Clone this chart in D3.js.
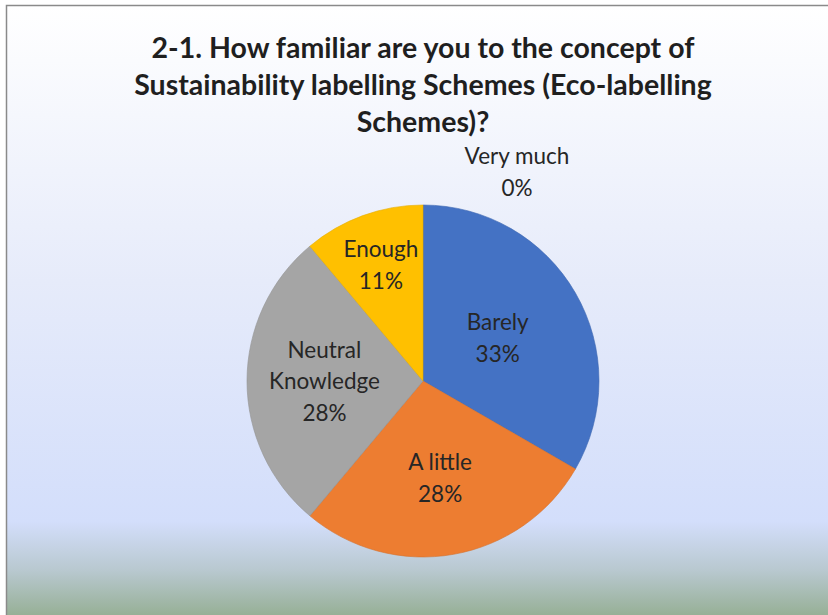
<!DOCTYPE html>
<html><head><meta charset="utf-8">
<script src="https://cdn.jsdelivr.net/npm/d3@7"></script>
<style>html,body{margin:0;padding:0;background:#fff;overflow:hidden}</style>
</head><body>
<svg id="c" width="828" height="615"></svg>
<script>
const titleLines = ["2-1. How familiar are you to the concept of", "Sustainability labelling Schemes (Eco-labelling", "Schemes)?"];
const categories = ["Very much", "Barely", "A little", "Neutral Knowledge", "Enough"];
const labelLines = [["Very much"], ["Barely"], ["A little"], ["Neutral", "Knowledge"], ["Enough"]];
const values = [0, 12, 10, 10, 4];
const colors = ["#5b9bd5", "#4472c4", "#ed7d31", "#a5a5a5", "#ffc000"];

const W = 828, H = 615;
const svg = d3.select("#c");
const defs = svg.append("defs");
const g = defs.append("linearGradient").attr("id","bg").attr("x1",0).attr("y1",0).attr("x2",0).attr("y2",1);
[[0,"#ffffff"],[0.45,"#e6ebfa"],[0.84,"#d3defb"],[0.92,"#b8c8cf"],[1,"#93ad90"]].forEach(([o,c])=>g.append("stop").attr("offset",o).attr("stop-color",c));
svg.append("rect").attr("x",6).attr("y",5).attr("width",W).attr("height",H).attr("fill","url(#bg)");
svg.append("path").attr("d",`M6.5,${H} L6.5,5.5 L${W},5.5`).attr("fill","none").attr("stroke","#8a8a8a").attr("stroke-width",1.5);

const font = "Lato, 'Open Sans', sans-serif";
svg.append("g").selectAll("text").data(titleLines).join("text")
  .attr("x", 423).attr("y", (d,i)=>58 + i*37)
  .attr("text-anchor","middle").attr("font-family",font).attr("font-weight","bold")
  .attr("font-size",28.5).attr("fill","#1f1f1f").text(d=>d);

const cx = 423, cy = 381, r = 176;
const pie = d3.pie().sort(null).value(d=>d.v);
const data = categories.map((c,i)=>({c, v: values[i], lines: labelLines[i], color: colors[i]}));
const arcs = pie(data);
const total = d3.sum(values);
const arc = d3.arc().innerRadius(0).outerRadius(r);
const pg = svg.append("g").attr("transform",`translate(${cx},${cy})`);
pg.selectAll("path").data(arcs).join("path")
  .attr("d",arc).attr("fill",d=>d.data.color)
  .attr("stroke",d=>d3.color(d.data.color).darker(0.3)).attr("stroke-width",0.6);

const fmt = d3.format(".0%");
const labelRadiusFactor = {"Barely":0.49, "A little":0.56, "Neutral Knowledge":0.56, "Enough":0.7};
const lg = pg.append("g").attr("font-family",font).attr("font-size",22.5).attr("fill","#262626").attr("text-anchor","middle");
arcs.forEach(a=>{
  const lines = a.data.lines.concat([fmt(a.data.v/total)]);
  let x, y;
  if (a.data.v === 0) {
    x = 94; y = -r - 33;
  } else {
    const ang = (a.startAngle + a.endAngle)/2;
    const rr = r * labelRadiusFactor[a.data.c];
    x = Math.sin(ang)*rr; y = -Math.cos(ang)*rr;
  }
  const n = lines.length, lh = 31.5;
  lines.forEach((t,i)=>{
    lg.append("text").attr("x",x).attr("y", y + (i - (n-1)/2)*lh + 8).text(t);
  });
});
</script>
</body></html>
